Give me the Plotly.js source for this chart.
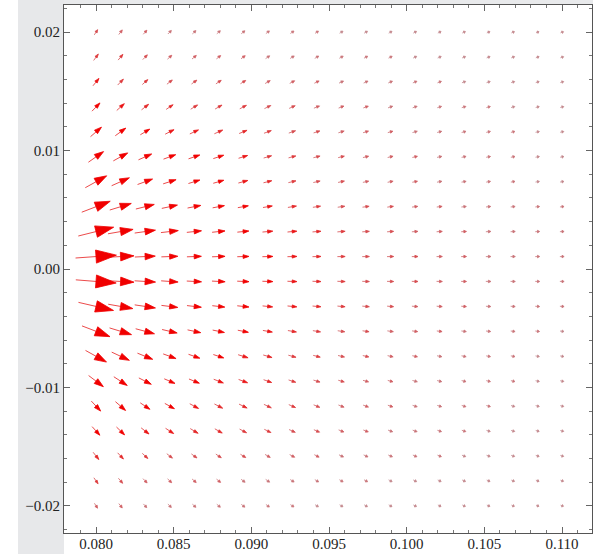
<!DOCTYPE html>
<html>
<head>
<meta charset="utf-8">
<script src="https://cdn.plot.ly/plotly-3.0.1.min.js"></script>
<style>
  html, body { margin: 0; padding: 0; background: #ffffff; }
  #chart { width: 593px; height: 554px; }
</style>
</head>
<body>
<div id="chart"></div>
<script>
// Sample points of the vector field (20 columns x 20 rows)
const xGrid = [0.08000, 0.08158, 0.08316, 0.08474, 0.08632, 0.08789, 0.08947, 0.09105, 0.09263, 0.09421,
               0.09579, 0.09737, 0.09895, 0.10053, 0.10211, 0.10368, 0.10526, 0.10684, 0.10842, 0.11000];
const yGrid = [0.02000, 0.01789, 0.01579, 0.01368, 0.01158, 0.00947, 0.00737, 0.00526, 0.00316, 0.00105,
               -0.00105, -0.00316, -0.00526, -0.00737, -0.00947, -0.01158, -0.01368, -0.01579, -0.01789, -0.02000];

// Field strength at each sample (one row per yGrid value, one entry per xGrid value)
const fieldStrength = [
  [6.2, 5.8, 5.4, 5.0, 4.8, 4.7, 4.6, 4.4, 4.3, 4.1, 4.0, 3.9, 3.8, 3.7, 3.6, 3.5, 3.4, 3.3, 3.2, 3.2],
  [8.0, 7.5, 6.6, 5.8, 5.6, 5.4, 5.2, 5.0, 4.8, 4.6, 4.4, 4.2, 4.1, 4.0, 3.9, 3.8, 3.7, 3.6, 3.5, 3.4],
  [9.5, 8.3, 7.4, 6.9, 6.6, 6.4, 6.2, 5.9, 5.6, 5.3, 5.0, 4.8, 4.6, 4.4, 4.2, 4.0, 3.9, 3.7, 3.6, 3.5],
  [11.5, 10.2, 9.0, 8.4, 8.2, 8.0, 7.6, 7.1, 6.6, 6.1, 5.7, 5.3, 5.0, 4.7, 4.5, 4.3, 4.1, 3.9, 3.7, 3.6],
  [14.5, 13.0, 11.0, 10.0, 9.6, 9.2, 8.5, 7.8, 7.2, 6.6, 6.1, 5.7, 5.3, 5.0, 4.7, 4.5, 4.3, 4.1, 3.9, 3.7],
  [18.5, 16.5, 14.5, 13.0, 12.0, 11.0, 9.5, 8.3, 7.6, 6.9, 6.4, 5.9, 5.5, 5.2, 4.9, 4.6, 4.4, 4.2, 4.0, 3.8],
  [24.5, 19.5, 16.0, 13.6, 12.0, 11.0, 9.8, 8.6, 7.8, 7.0, 6.5, 6.0, 5.6, 5.3, 5.0, 4.7, 4.4, 4.2, 4.0, 3.9],
  [30.5, 22.5, 19.0, 16.0, 13.5, 12.0, 10.7, 9.5, 8.7, 7.8, 7.2, 6.7, 6.2, 5.8, 5.4, 5.0, 4.8, 4.5, 4.3, 4.1],
  [36.5, 25.5, 21.0, 17.5, 14.8, 13.0, 11.6, 10.4, 9.4, 8.5, 7.8, 7.2, 6.6, 6.1, 5.7, 5.3, 5.0, 4.7, 4.4, 4.2],
  [41.0, 27.0, 20.5, 16.5, 14.5, 13.0, 11.7, 10.5, 9.5, 8.5, 7.8, 7.2, 6.7, 6.2, 5.8, 5.4, 5.1, 4.8, 4.5, 4.3],
  [40.5, 27.0, 21.0, 17.0, 14.8, 13.2, 11.8, 10.5, 9.5, 8.5, 7.8, 7.2, 6.7, 6.2, 5.8, 5.4, 5.1, 4.8, 4.5, 4.3],
  [36.0, 25.0, 21.0, 16.5, 14.5, 12.6, 11.8, 10.2, 9.4, 8.4, 7.7, 7.1, 6.5, 6.0, 5.6, 5.2, 4.9, 4.6, 4.4, 4.2],
  [30.0, 23.0, 19.5, 15.5, 13.5, 12.0, 10.8, 9.6, 8.7, 7.8, 7.2, 6.6, 6.1, 5.7, 5.3, 5.0, 4.7, 4.4, 4.2, 4.0],
  [24.0, 19.5, 16.5, 13.7, 12.0, 11.0, 10.4, 9.2, 8.0, 7.3, 6.7, 6.2, 5.7, 5.3, 5.0, 4.7, 4.4, 4.2, 4.0, 3.8],
  [18.5, 16.0, 14.0, 11.7, 11.2, 10.4, 9.6, 8.6, 7.6, 6.9, 6.3, 5.8, 5.4, 5.1, 4.8, 4.5, 4.3, 4.1, 3.9, 3.7],
  [13.7, 13.5, 11.6, 11.0, 10.0, 9.3, 9.0, 8.2, 7.4, 6.7, 6.1, 5.7, 5.3, 4.9, 4.6, 4.4, 4.2, 4.0, 3.8, 3.6],
  [11.6, 11.3, 10.0, 9.7, 9.2, 8.6, 8.0, 7.4, 6.8, 6.2, 5.7, 5.3, 5.0, 4.7, 4.4, 4.2, 4.0, 3.8, 3.6, 3.5],
  [9.3, 8.5, 7.6, 7.2, 6.9, 6.6, 6.3, 6.0, 5.7, 5.4, 5.1, 4.8, 4.6, 4.4, 4.2, 4.0, 3.9, 3.7, 3.6, 3.5],
  [7.4, 6.6, 5.9, 5.6, 5.4, 5.2, 5.0, 4.8, 4.6, 4.4, 4.3, 4.1, 4.0, 3.9, 3.8, 3.7, 3.6, 3.5, 3.4, 3.3],
  [5.8, 5.5, 5.0, 4.8, 4.7, 4.6, 4.5, 4.3, 4.2, 4.0, 3.9, 3.8, 3.7, 3.6, 3.5, 3.4, 3.3, 3.2, 3.1, 3.1]
];

// Field direction at each sample, degrees counter-clockwise from +x
const fieldAngleDeg = [
  [57, 53, 49, 45, 43, 41, 39, 37, 35, 33, 31, 30, 29, 28, 27, 26, 25, 24, 23, 22],
  [54, 50, 46, 42, 40, 38, 36, 34, 32, 30, 29, 28, 27, 26, 25, 24, 23, 22, 21, 20],
  [51, 46, 42, 38, 36, 34, 32, 30, 28, 26, 25, 24, 23, 22, 21, 20, 19, 18, 17.5, 17],
  [46, 42, 38, 34, 32, 30, 28, 26, 24, 22, 21, 20, 19, 18, 17, 16, 15.5, 15, 14.5, 14],
  [41, 36, 31, 27, 25, 24, 22, 20, 19, 18, 17, 16, 15, 14.5, 14, 13.5, 13, 12.5, 12, 11.5],
  [35, 29, 24, 20, 19, 18, 17, 16, 15, 14, 13.5, 13, 12.5, 12, 11.5, 11, 10.5, 10, 10, 9.5],
  [29, 24, 20, 18, 17, 16, 15, 14, 13, 12.5, 12, 11.5, 11, 10.5, 10, 9.5, 9.5, 9, 9, 8.5],
  [21, 17, 14, 12, 11, 10.5, 10, 9.5, 9, 8.5, 8, 7.5, 7, 7, 6.5, 6.5, 6, 6, 6, 5.5],
  [14, 10, 8, 6.5, 6, 6, 5.5, 5, 5, 4.5, 4.5, 4, 4, 4, 3.5, 3.5, 3.5, 3.5, 3, 3],
  [4, 3, 2.5, 2, 2, 2, 1.5, 1.5, 1.5, 1.5, 1, 1, 1, 1, 1, 1, 1, 1, 1, 1],
  [-4.5, -3, -3.5, -4, -3, -3, -2.5, -2, -2, -2, -2, -1.5, -1.5, -1.5, -1.5, -1, -1, -1, -1, -1],
  [-13, -10, -8.5, -7, -6.5, -6.5, -6, -5.5, -5.5, -5, -5, -4.5, -4.5, -4, -4, -4, -3.5, -3.5, -3.5, -3.5],
  [-21, -17, -15, -13, -12, -11.5, -11, -10, -9.5, -9, -8.5, -8, -7.5, -7.5, -7, -7, -6.5, -6.5, -6.5, -6],
  [-29, -25, -22, -20, -19, -18, -17, -16, -15, -14, -13, -12.5, -12, -11.5, -11, -10.5, -10, -10, -9.5, -9],
  [-37, -33, -27, -23, -22, -21, -20, -19, -18, -17, -16, -15, -14.5, -14, -13.5, -13, -12.5, -12, -12, -11.5],
  [-47, -41, -34, -29, -28, -27, -26, -25, -23, -22, -21, -20, -19, -18, -17, -16.5, -16, -15.5, -15, -14.5],
  [-48, -44, -38, -33, -31, -30, -28, -26, -24, -23, -22, -21, -20, -19, -18, -17, -16.5, -16, -15.5, -15],
  [-52, -47, -43, -38, -36, -34, -32, -30, -28, -27, -26, -25, -24, -23, -22, -21, -20, -19, -18.5, -18],
  [-55, -50, -46, -43, -41, -39, -37, -35, -33, -31, -30, -29, -28, -27, -26, -25, -24, -23, -22, -21],
  [-58, -52, -48, -44, -42, -40, -38, -36, -34, -32, -31, -30, -29, -28, -27, -26, -25, -24, -23, -22]
];

// Axis ticks
const xTickVals = [0.080, 0.085, 0.090, 0.095, 0.100, 0.105, 0.110];
const xTickText = ['0.080', '0.085', '0.090', '0.095', '0.100', '0.105', '0.110'];
const yTickVals = [-0.02, -0.01, 0.00, 0.01, 0.02];
const yTickText = ['\u22120.02', '\u22120.01', '0.00', '0.01', '0.02'];

// ---- drawing ----
const W = 593, H = 554;
const margin = { l: 64, r: 1, t: 5, b: 21 };
const xRange = [0.07794, 0.11193];
const yRange = [-0.0223, 0.0223];
const plotW = W - margin.l - margin.r;
const plotH = H - margin.t - margin.b;
const pxPerX = plotW / (xRange[1] - xRange[0]);
const pxPerY = plotH / (yRange[1] - yRange[0]);

const lengthScale = 1.0;   // pixels per unit of field strength
const headLenFrac = 0.5;   // arrowhead length relative to arrow length
const headHalfFrac = 0.16; // arrowhead half-width relative to arrow length
const minHalfWidth = 1.3;  // keep the smallest heads visible

const NBINS = 8;
const bins = [];
for (let b = 0; b < NBINS; b++) bins.push({ sx: [], sy: [], hx: [], hy: [] });

function binOf(len) {
  let t = (len - 3.5) / (11 - 3.5);
  t = Math.max(0, Math.min(1, t));
  return Math.round(t * (NBINS - 1));
}
function mix(a, b, t) { return Math.round(a + (b - a) * t); }

for (let j = 0; j < yGrid.length; j++) {
  for (let i = 0; i < xGrid.length; i++) {
    const L = fieldStrength[j][i] * lengthScale;
    const th = fieldAngleDeg[j][i] * Math.PI / 180;
    const ux = Math.cos(th), uy = Math.sin(th);
    const nx = -uy, ny = ux;
    const cx = xGrid[i], cy = yGrid[j];
    // pixel offsets -> data coordinates
    const P = (px, py) => [cx + px / pxPerX, cy + py / pxPerY];
    const tail = P(-ux * L / 2, -uy * L / 2);
    const tipPx = [ux * L / 2, uy * L / 2];
    const h = headLenFrac * L, w = Math.max(minHalfWidth, headHalfFrac * L);
    const basePx = [tipPx[0] - ux * h, tipPx[1] - uy * h];
    const tip = P(tipPx[0], tipPx[1]);
    const base = P(basePx[0], basePx[1]);
    const c1 = P(basePx[0] + nx * w, basePx[1] + ny * w);
    const c2 = P(basePx[0] - nx * w, basePx[1] - ny * w);
    const bin = bins[binOf(L)];
    bin.sx.push(tail[0], base[0], null);
    bin.sy.push(tail[1], base[1], null);
    bin.hx.push(tip[0], c1[0], c2[0], tip[0], null);
    bin.hy.push(tip[1], c1[1], c2[1], tip[1], null);
  }
}

const traces = [];
bins.forEach((b, k) => {
  if (!b.sx.length) return;
  const t = k / (NBINS - 1);
  const head = `rgb(${mix(195, 240, t)},${mix(135, 0, t)},${mix(140, 0, t)})`;
  const shaft = `rgb(${mix(205, 236, t)},${mix(160, 75, t)},${mix(165, 75, t)})`;
  traces.push({
    type: 'scatter', mode: 'lines', x: b.sx, y: b.sy,
    line: { color: shaft, width: 1 }, hoverinfo: 'skip', showlegend: false
  });
  traces.push({
    type: 'scatter', mode: 'lines', x: b.hx, y: b.hy,
    fill: 'toself', fillcolor: head,
    line: { color: head, width: 0.8 }, hoverinfo: 'skip', showlegend: false
  });
});

const tickFont = { family: 'Liberation Serif', size: 15, color: '#222222' };
const axisCommon = {
  showline: true, linecolor: '#555555', linewidth: 1, mirror: 'ticks',
  ticks: 'inside', ticklen: 6, tickcolor: '#666666', tickwidth: 1,
  showgrid: false, zeroline: false, tickfont: tickFont
};

const layout = {
  width: W, height: H,
  margin: margin,
  paper_bgcolor: '#ffffff',
  plot_bgcolor: '#ffffff',
  showlegend: false,
  xaxis: Object.assign({}, axisCommon, {
    range: xRange, tickmode: 'array', tickvals: xTickVals, ticktext: xTickText,
    ticklabelstandoff: -3,
    minor: { dtick: 0.001, tick0: 0.08, ticks: 'inside', ticklen: 3, tickcolor: '#777777', showgrid: false }
  }),
  yaxis: Object.assign({}, axisCommon, {
    range: yRange, tickmode: 'array', tickvals: yTickVals, ticktext: yTickText,
    minor: { dtick: 0.002, tick0: 0, ticks: 'inside', ticklen: 3, tickcolor: '#777777', showgrid: false }
  }),
  shapes: [
    // light backdrop in the left and top margins
    { type: 'rect', xref: 'paper', yref: 'paper', layer: 'below',
      x0: -46 / plotW, x1: 0, y0: -margin.b / plotH, y1: 1 + margin.t / plotH,
      fillcolor: '#e7e8ea', line: { width: 0 } },
    { type: 'rect', xref: 'paper', yref: 'paper', layer: 'below',
      x0: 0, x1: 1 + margin.r / plotW, y0: 1, y1: 1 + margin.t / plotH,
      fillcolor: '#e9eaec', line: { width: 0 } }
  ]
};

Plotly.newPlot('chart', traces, layout, { staticPlot: true, displayModeBar: false });
</script>
</body>
</html>
